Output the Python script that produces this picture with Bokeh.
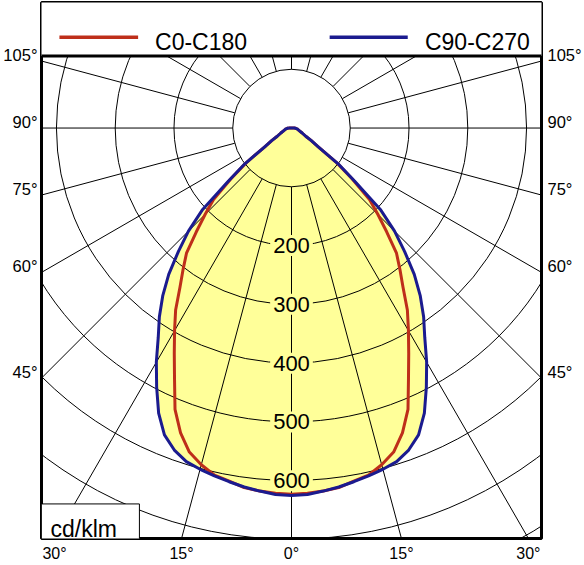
import numpy as np
from bokeh.plotting import figure
from bokeh.models import Range1d, LinearAxis, FixedTicker
from bokeh.core.properties import value
from bokeh.embed import file_html
from bokeh.resources import INLINE

# ---------------- data ----------------
gamma_deg = [0, 2.5, 5, 7.5, 10, 12.5, 15, 17.5, 20, 22.5, 25, 27.5, 30, 32.5, 35, 37.5, 40,
             42.5, 45, 47.5, 50, 52.5, 55, 57.5, 60, 65, 70, 75, 80, 85, 90]
c0_c180 = [623, 622, 620, 617, 610, 605, 593, 578, 552, 518, 471, 432, 398, 367, 331, 303, 278,
           240, 208, 180, 135, 98, 55, 40, 28, 20, 15, 12, 10, 8, 5]
c90_c270 = [625, 624, 620, 616, 611, 606, 601, 595, 583, 565, 535, 497, 460, 422, 392, 360, 325,
            285, 248, 205, 140, 100, 55, 40, 28, 20, 15, 12, 10, 8, 5]
series_names = ["C0-C180", "C90-C270"]
series_colors = ["#BE2F1A", "#1B1B8F"]
ring_values = [100, 200, 300, 400, 500, 600, 700, 800]
ring_label_values = [200, 300, 400, 500, 600]
spoke_step_deg = 15
side_tick_angles = [105, 90, 75, 60, 45]
bottom_tick_angles = [-30, -15, 0, 15, 30]
unit_text = "cd/klm"

# ---------------- layout / style ----------------
YELLOW = "#FFFF99"
FONT = "Liberation Sans"
W, H = 584, 564
BL, BR, BT, BB = 40, 42, 2, 24
FW = W - BL - BR
FH = H - BT - BB
K = 0.59              # pixels per cd/klm
CYC = 128.0           # canvas y of the polar centre
x_half = FW / 2 / K
y_top = (CYC - BT) / K
y_bot = y_top - FH / K


def dx(cx):
    return (cx - BL - FW / 2) / K


def dy(cy):
    return (CYC - cy) / K


p = figure(width=W, height=H, x_range=Range1d(-x_half, x_half), y_range=Range1d(y_bot, y_top),
           output_backend="svg", toolbar_location=None,
           x_axis_location=None, y_axis_location=None,
           min_border_left=BL, min_border_right=BR, min_border_top=BT, min_border_bottom=BB,
           background_fill_color="white", border_fill_color="white",
           outline_line_color="black", outline_line_width=3)
p.xgrid.visible = False
p.ygrid.visible = False

g = np.radians(np.array(gamma_deg, dtype=float))


def polar_xy(vals):
    v = np.asarray(vals, dtype=float)
    ga = np.concatenate([-g[::-1], g[1:]])
    va = np.concatenate([v[::-1], v[1:]])
    xs, ys = va * np.sin(ga), -va * np.cos(ga)
    # close the curve over the top (90 deg -> 270 deg)
    return np.append(xs, xs[0]), np.append(ys, ys[0])


curves = [polar_xy(c0_c180), polar_xy(c90_c270)]

# yellow filled area
for xs, ys in curves:
    p.patch(xs, ys, fill_color=YELLOW, line_color=None)

# polar grid
p.circle(x=[0] * len(ring_values), y=[0] * len(ring_values), radius=ring_values,
         fill_color=None, line_color="black", line_width=1)
ang = np.radians(np.arange(0, 360, spoke_step_deg))
r0, r1 = ring_values[0], 3000
p.segment(x0=r0 * np.sin(ang), y0=-r0 * np.cos(ang), x1=r1 * np.sin(ang), y1=-r1 * np.cos(ang),
          line_color="black", line_width=1)

# ring value labels
p.text(x=[0] * len(ring_label_values), y=[-v for v in ring_label_values],
       text=[str(v) for v in ring_label_values],
       text_align="center", text_baseline="middle", text_font=value(FONT),
       text_font_size="22px", text_color="black",
       background_fill_color=YELLOW, padding=3)

# curves
for (xs, ys), col in zip(curves, series_colors):
    p.line(xs, ys, line_color=col, line_width=3, line_join="round")

# legend area
SEP = 55.7
p.quad(left=-x_half - 20, right=x_half + 20, bottom=dy(SEP), top=y_top + 20,
       fill_color="white", line_color=None)
p.segment(x0=[-x_half - 20], y0=[dy(SEP)], x1=[x_half + 20], y1=[dy(SEP)],
          line_color="black", line_width=3)
leg_line_x = [(58.0, 137.0), (329.3, 407.7)]
leg_text_x = [154.0, 425.0]
for (a, b), tx, name, col in zip(leg_line_x, leg_text_x, series_names, series_colors):
    p.line([dx(a), dx(b)], [dy(37.0), dy(37.0)], line_color=col, line_width=3.5)
    p.text(x=[dx(tx)], y=[dy(41.7)], text=[name], text_align="left", text_baseline="alphabetic",
           text_font=value(FONT), text_font_size="23px", text_color="black")

# unit box
p.quad(left=dx(40.0), right=dx(138.3), bottom=y_bot - 20, top=dy(505.3),
       fill_color="white", line_color="black", line_width=1)
p.text(x=[dx(49.0)], y=[dy(530.0)], text=[unit_text], text_align="left", text_baseline="alphabetic",
       text_font=value(FONT), text_font_size="23px", text_color="black")

# angle labels on the sides and bottom
label_shift = 6.5 / K
side_ticks = [round(float(-x_half / np.tan(np.radians(a)) + label_shift), 3) for a in side_tick_angles]
side_labels = {t: f"{a}°" for t, a in zip(side_ticks, side_tick_angles)}
bottom_ticks = [round(float(-y_bot * np.tan(np.radians(a))), 3) for a in bottom_tick_angles]
bottom_labels = {t: f"{abs(a)}°" for t, a in zip(bottom_ticks, bottom_tick_angles)}


def make_axis(ticks, labels, standoff, size):
    return LinearAxis(ticker=FixedTicker(ticks=ticks), major_label_overrides=labels,
                      axis_line_color=None, major_tick_line_color=None, minor_tick_line_color=None,
                      major_tick_in=0, major_tick_out=0, minor_tick_in=0, minor_tick_out=0,
                      major_label_standoff=standoff,
                      major_label_text_font=FONT, major_label_text_font_size=size,
                      major_label_text_color="black")


p.add_layout(make_axis(side_ticks, side_labels, 4, "16.5px"), "left")
p.add_layout(make_axis(side_ticks, side_labels, 6, "16.5px"), "right")
p.add_layout(make_axis(bottom_ticks, bottom_labels, 6, "16px"), "below")

open("out.html", "w").write(file_html(p, INLINE))
